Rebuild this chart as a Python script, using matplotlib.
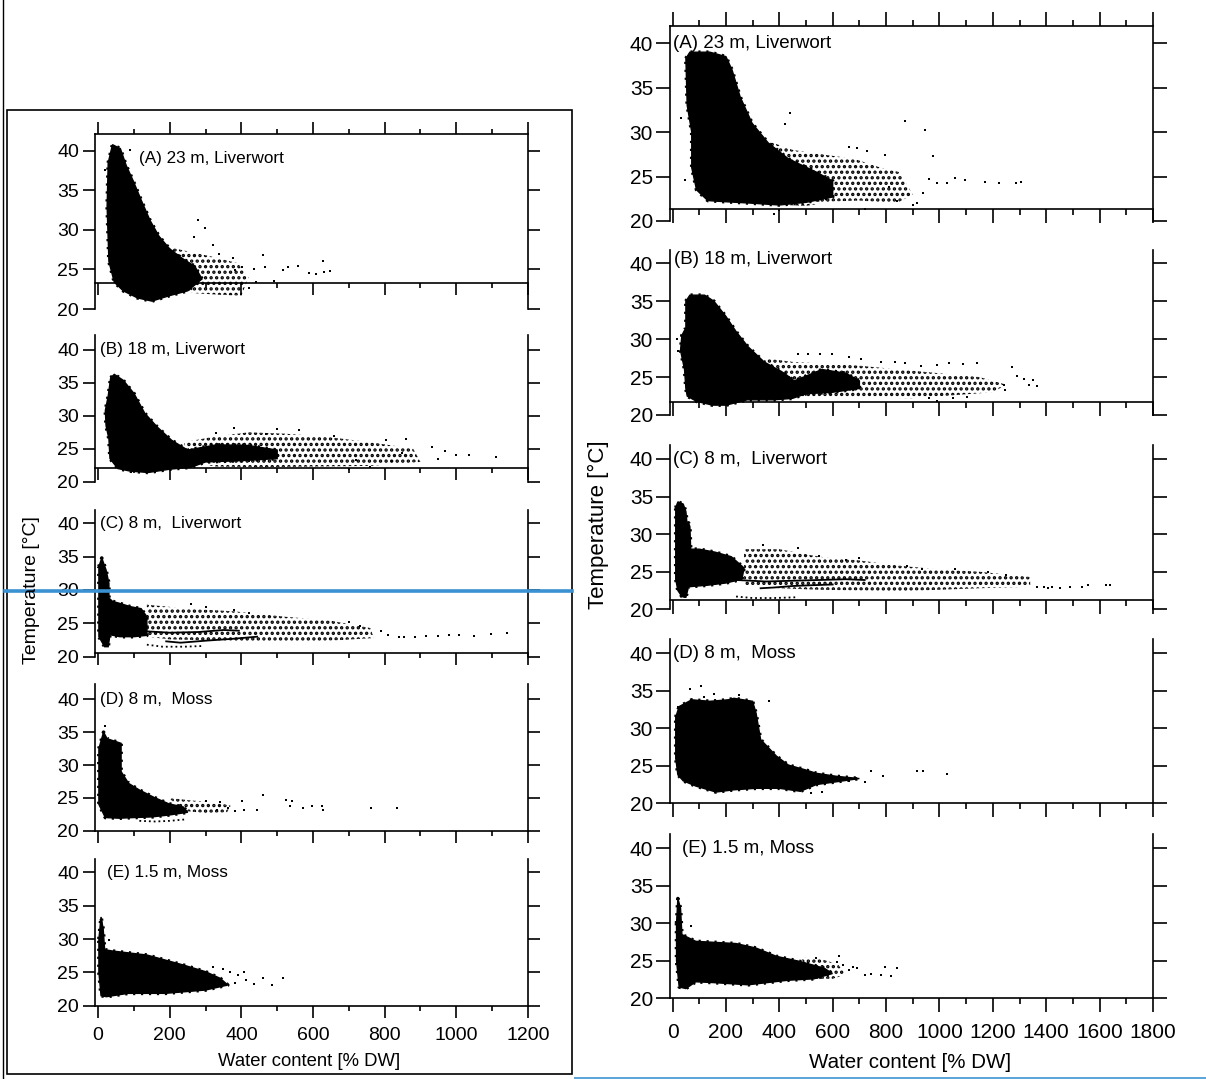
import matplotlib
matplotlib.use("Agg")
import matplotlib.pyplot as plt
from matplotlib.ticker import MultipleLocator
from matplotlib.lines import Line2D
from matplotlib.patches import Rectangle

plt.rcParams['font.family'] = ['Liberation Sans', 'DejaVu Sans']
plt.rcParams['hatch.linewidth'] = 1.6

W, H = 1206, 1079

# ---------------- data (water content [% DW], temperature [°C]) ----------------
# left figure
la_core_w = [28, 40, 62, 78, 98, 120, 145, 170, 200, 235, 270, 290, 250, 200, 150, 110, 70, 45, 30, 25]
la_core_t = [38.5, 40.8, 40.3, 38.2, 36.2, 33.8, 31.2, 29.2, 27.6, 26.4, 25.4, 23.8, 22.3, 21.7, 21.0, 21.4, 22.3, 23.4, 26.0, 33.0]
la_halo_w = [190, 250, 320, 390, 420, 400, 340, 270, 200]
la_halo_t = [27.9, 27.3, 26.6, 25.8, 24.0, 21.7, 21.8, 22.0, 22.5]
la_pts_w = [18, 88, 280, 297, 269, 321, 338, 377, 460, 465, 516, 531, 557, 588, 627, 631, 648, 609, 490, 434, 403, 383, 440, 420]
la_pts_t = [37.6, 40.1, 31.3, 30.3, 29.1, 28.1, 27.0, 26.4, 26.8, 25.3, 24.9, 25.3, 25.4, 24.5, 26.1, 24.7, 24.8, 24.4, 23.6, 25.1, 25.3, 24.9, 23.4, 22.6]

lb_core_w = [35, 45, 70, 100, 130, 165, 205, 250, 330, 420, 500, 500, 400, 300, 260, 200, 140, 90, 55, 33, 30, 22, 20, 28]
lb_core_t = [35.8, 36.3, 35.4, 33.4, 30.4, 28.3, 26.3, 24.8, 25.6, 25.5, 24.8, 23.5, 23.2, 23.0, 22.2, 21.9, 21.4, 21.6, 22.0, 23.5, 26.5, 28.5, 30.8, 33.0]
lb_halo_w = [240, 320, 420, 520, 640, 760, 880, 900, 760, 600, 450, 330, 250]
lb_halo_t = [26.0, 26.8, 27.5, 27.3, 26.8, 26.0, 25.0, 23.0, 22.4, 22.3, 22.2, 22.3, 23.0]
lb_pts_w = [860, 804, 932, 948, 968, 999, 1035, 1112, 820, 850, 700, 660, 560, 500, 470, 380, 330, 760, 720]
lb_pts_t = [26.5, 26.3, 25.2, 23.5, 24.7, 24.0, 24.0, 23.7, 23.2, 24.3, 22.0, 26.9, 27.8, 28.0, 27.3, 28.1, 27.4, 22.2, 23.3]

lc_core_w = [2, 10, 22, 30, 30, 40, 60, 90, 120, 136, 136, 100, 60, 33, 28, 18, 2]
lc_core_t = [33.5, 34.8, 33.0, 31.0, 28.8, 28.3, 28.0, 27.5, 27.2, 26.0, 23.2, 23.0, 23.0, 23.3, 21.5, 21.5, 23.0]
lc_halo_w = [136, 250, 380, 520, 650, 760, 770, 650, 500, 350, 200, 136]
lc_halo_t = [27.8, 27.2, 26.8, 26.0, 25.4, 24.3, 22.8, 22.4, 22.2, 22.4, 22.6, 23.0]
lc_pts_w = [839, 855, 886, 917, 948, 979, 1009, 1051, 1097, 1143, 790, 810, 730, 700, 420, 380, 300, 260]
lc_pts_t = [23.0, 23.0, 23.0, 23.1, 23.1, 23.2, 23.2, 23.1, 23.4, 23.5, 23.8, 23.2, 24.6, 25.2, 26.5, 27.0, 27.4, 27.9]
lc_trail1_w = [136, 200, 280, 350, 393]
lc_trail1_t = [23.8, 23.6, 23.7, 24.0, 23.9]
lc_trail2_w = [190, 230, 300, 380, 444]
lc_trail2_t = [22.3, 22.1, 22.4, 22.7, 23.0]
lc_trail3_w = [136, 180, 240, 290]
lc_trail3_t = [21.8, 21.5, 21.5, 21.6]

ld_core_w = [2, 15, 25, 64, 64, 85, 115, 155, 197, 238, 250, 200, 150, 100, 60, 20, 2]
ld_core_t = [32.5, 35.0, 34.0, 33.3, 29.0, 27.2, 26.2, 25.1, 24.1, 23.6, 22.8, 22.4, 22.1, 22.0, 21.9, 22.0, 24.0]
ld_halo_w = [197, 260, 330, 370, 360, 300, 240]
ld_halo_t = [25.0, 24.6, 24.3, 23.8, 22.8, 22.7, 23.0]
ld_pts_w = [300, 341, 362, 403, 408, 460, 444, 526, 537, 542, 573, 598, 624, 629, 763, 835, 382, 331, 20]
ld_pts_t = [24.5, 24.3, 23.5, 24.5, 23.2, 25.4, 23.1, 24.7, 23.8, 24.5, 23.5, 23.7, 23.7, 23.2, 23.4, 23.5, 23.0, 23.2, 35.9]
ld_trail_w = [115, 160, 200, 240]
ld_trail_t = [21.5, 21.4, 21.5, 21.7]

le_core_w = [2, 8, 14, 18, 40, 136, 238, 300, 341, 362, 300, 187, 84, 23, 8, 2]
le_core_t = [30.0, 33.3, 31.5, 28.4, 28.2, 27.6, 26.1, 25.1, 24.1, 23.1, 22.35, 21.85, 21.85, 21.35, 21.5, 25.0]
le_pts_w = [321, 367, 408, 413, 460, 485, 516, 382, 434, 29, 390, 350]
le_pts_t = [25.8, 25.1, 25.1, 23.9, 24.1, 23.1, 24.1, 23.4, 23.3, 29.9, 24.6, 25.5]

# right figure
ra_core_w = [50, 65, 140, 200, 223, 253, 298, 358, 434, 539, 600, 600, 500, 400, 300, 180, 132, 90, 72, 72, 55]
ra_core_t = [38.3, 39.0, 39.0, 38.5, 37.0, 34.0, 31.0, 28.8, 27.0, 25.5, 24.5, 22.7, 22.1, 21.8, 22.0, 22.2, 22.3, 23.5, 26.0, 30.0, 33.0]
ra_halo_w = [358, 450, 560, 680, 780, 850, 900, 840, 700, 600, 500, 420]
ra_halo_t = [29.0, 28.0, 27.5, 27.0, 26.0, 25.5, 23.0, 22.0, 22.3, 22.2, 21.7, 21.8]
ra_pts_w = [441, 870, 946, 976, 795, 690, 660, 727, 961, 991, 1029, 1059, 1096, 1172, 1224, 1285, 1307, 938, 916, 901, 840, 810, 400, 380, 720, 45, 30, 420]
ra_pts_t = [32.2, 31.3, 30.2, 27.3, 27.4, 28.2, 28.3, 27.9, 24.7, 24.3, 24.3, 24.8, 24.6, 24.4, 24.3, 24.3, 24.4, 23.1, 22.0, 21.8, 22.3, 23.8, 21.2, 20.8, 21.3, 24.6, 31.6, 30.9]

rb_core_w = [50, 65, 120, 155, 200, 238, 283, 343, 419, 456, 560, 650, 700, 700, 600, 500, 450, 380, 280, 200, 150, 90, 55, 50, 45, 30, 35, 50]
rb_core_t = [35.0, 35.8, 35.8, 35.0, 33.0, 31.0, 29.0, 27.0, 25.5, 24.5, 26.0, 25.5, 24.5, 23.5, 23.0, 22.8, 22.2, 22.0, 22.0, 21.3, 21.3, 21.8, 22.5, 23.5, 26.0, 28.5, 30.5, 31.5]
rb_halo_w = [343, 450, 560, 700, 850, 1000, 1150, 1250, 1200, 1050, 900, 750, 600, 456]
rb_halo_t = [27.5, 27.0, 26.8, 26.5, 26.0, 25.5, 25.0, 24.0, 23.0, 22.6, 22.2, 22.3, 22.3, 22.4]
rb_pts_w = [1270, 1292, 1315, 1352, 1367, 1337, 1240, 1247, 1142, 1089, 1036, 991, 931, 870, 833, 599, 554, 471, 509, 660, 705, 780, 961, 991, 1051, 1104, 15, 20]
rb_pts_t = [26.3, 25.2, 24.8, 24.6, 23.8, 23.9, 23.9, 23.3, 26.8, 26.7, 26.8, 26.6, 26.5, 26.8, 27.0, 28.1, 28.0, 28.0, 28.1, 27.7, 27.4, 27.0, 22.2, 21.9, 22.2, 22.4, 30.0, 28.5]

rc_core_w = [12, 20, 40, 50, 54, 60, 65, 68, 100, 160, 220, 268, 260, 200, 130, 60, 50, 45, 35, 20, 12]
rc_core_t = [33.5, 34.3, 34.0, 33.0, 31.5, 31.5, 31.0, 28.0, 28.0, 27.6, 27.0, 25.5, 24.0, 23.5, 23.2, 23.0, 21.6, 21.6, 21.7, 22.5, 24.0]
rc_halo_w = [268, 400, 550, 700, 850, 1000, 1150, 1340, 1340, 1150, 1000, 850, 700, 550, 400, 268]
rc_halo_t = [28.0, 28.0, 27.0, 26.5, 25.8, 25.3, 25.0, 24.3, 23.0, 22.8, 22.6, 22.4, 22.5, 22.6, 22.8, 23.2]
rc_pts_w = [1367, 1405, 1450, 1488, 1533, 1556, 1623, 1638, 1390, 1420, 340, 470, 550, 650, 700, 880, 935, 1060, 1180, 1250]
rc_pts_t = [23.0, 22.9, 22.8, 23.0, 23.0, 23.2, 23.2, 23.2, 23.0, 23.0, 28.6, 28.2, 27.1, 26.5, 26.8, 25.8, 25.3, 25.3, 24.9, 24.5]
rc_trail1_w = [238, 350, 450, 550, 650, 720]
rc_trail1_t = [23.9, 23.7, 23.8, 23.9, 24.0, 23.9]
rc_trail2_w = [330, 380, 450, 520, 600]
rc_trail2_t = [22.8, 22.9, 23.1, 23.2, 23.3]
rc_trail3_w = [238, 300, 380, 464]
rc_trail3_t = [21.7, 21.5, 21.5, 21.6]

rd_core_w = [12, 25, 72, 140, 208, 230, 300, 313, 330, 389, 434, 494, 539, 614, 700, 620, 539, 479, 400, 313, 230, 163, 87, 40, 20, 12]
rd_core_t = [31.5, 32.9, 33.8, 33.6, 33.8, 34.0, 33.6, 32.0, 28.5, 26.3, 25.1, 24.5, 24.0, 23.6, 23.3, 22.9, 22.5, 21.6, 22.0, 22.0, 21.8, 21.5, 22.3, 23.0, 23.8, 26.0]
rd_pts_w = [65, 105, 117, 155, 788, 742, 916, 938, 1029, 720, 660, 620, 560, 520, 20, 250, 360]
rd_pts_t = [35.3, 35.7, 34.2, 34.6, 23.6, 24.3, 24.3, 24.3, 23.9, 22.9, 23.0, 23.1, 21.5, 21.4, 32.8, 34.5, 33.7]

re_core_w = [15, 20, 30, 35, 87, 238, 313, 389, 479, 569, 599, 530, 430, 283, 150, 87, 50, 25, 15]
re_core_t = [30.0, 33.3, 32.0, 28.5, 27.6, 27.3, 26.7, 25.6, 24.9, 24.0, 23.3, 22.6, 22.4, 21.8, 22.1, 22.2, 21.3, 21.5, 25.0]
re_halo_w = [480, 560, 620, 650, 600, 520]
re_halo_t = [25.5, 25.2, 24.5, 23.2, 22.6, 22.6]
re_pts_w = [622, 675, 690, 720, 742, 795, 840, 817, 780, 536, 69, 617, 640, 660]
re_pts_t = [25.6, 24.2, 24.0, 23.1, 23.3, 24.2, 24.1, 23.0, 23.1, 25.4, 29.6, 24.9, 24.5, 23.8]

panel_labels = ['(A) 23 m, Liverwort', '(B) 18 m, Liverwort', '(C) 8 m,  Liverwort',
                '(D) 8 m,  Moss', '(E) 1.5 m, Moss']
xticks_left = [0, 200, 400, 600, 800, 1000, 1200]
xticks_right = [0, 200, 400, 600, 800, 1000, 1200, 1400, 1600, 1800]
yticks = [20, 25, 30, 35, 40]

# per-panel drawing content
left_sets = [
    dict(core=(la_core_w, la_core_t), halo=(la_halo_w, la_halo_t), pts=(la_pts_w, la_pts_t), trails=[]),
    dict(core=(lb_core_w, lb_core_t), halo=(lb_halo_w, lb_halo_t), pts=(lb_pts_w, lb_pts_t), trails=[]),
    dict(core=(lc_core_w, lc_core_t), halo=(lc_halo_w, lc_halo_t), pts=(lc_pts_w, lc_pts_t),
         trails=[(lc_trail1_w, lc_trail1_t, '-'), (lc_trail2_w, lc_trail2_t, '-'), (lc_trail3_w, lc_trail3_t, ':')]),
    dict(core=(ld_core_w, ld_core_t), halo=(ld_halo_w, ld_halo_t), pts=(ld_pts_w, ld_pts_t),
         trails=[(ld_trail_w, ld_trail_t, ':')]),
    dict(core=(le_core_w, le_core_t), halo=None, pts=(le_pts_w, le_pts_t), trails=[]),
]
right_sets = [
    dict(core=(ra_core_w, ra_core_t), halo=(ra_halo_w, ra_halo_t), pts=(ra_pts_w, ra_pts_t), trails=[]),
    dict(core=(rb_core_w, rb_core_t), halo=(rb_halo_w, rb_halo_t), pts=(rb_pts_w, rb_pts_t), trails=[]),
    dict(core=(rc_core_w, rc_core_t), halo=(rc_halo_w, rc_halo_t), pts=(rc_pts_w, rc_pts_t),
         trails=[(rc_trail1_w, rc_trail1_t, '-'), (rc_trail2_w, rc_trail2_t, '-'), (rc_trail3_w, rc_trail3_t, ':')]),
    dict(core=(rd_core_w, rd_core_t), halo=None, pts=(rd_pts_w, rd_pts_t), trails=[]),
    dict(core=(re_core_w, re_core_t), halo=(re_halo_w, re_halo_t), pts=(re_pts_w, re_pts_t), trails=[]),
]

# ---------------- layout (pixels) ----------------
# (top px, bottom px at 20 degC, px of 40 degC, T of the x-axis line)
left_rows = [(134, 309, 151, 23.3), (335, 481.7, 350, 22.1), (510, 656.7, 523.3, 20.5),
             (684.3, 830.7, 699.3, 20.0), (859, 1005.7, 872.3, 20.0)]
right_rows = [(26, 221, 43.3, 21.3), (250, 415, 263.3, 21.7), (445, 609.3, 459, 21.3),
              (639.3, 803.3, 653.3, 20.0), (834.3, 998.3, 848.3, 20.0)]
left_lab = [(113, 39.1, 12.3), (4, 40.1, 12.3), (4, 40.0, 12.3), (4, 40.0, 12.3), (25, 40.0, 12.3)]
right_lab = [(2, 40.0, 13.5), (5, 40.5, 13.5), (2, 39.9, 13.5), (2, 40.0, 13.5), (35, 40.0, 13.5)]

fig = plt.figure(figsize=(W / 100, H / 100), dpi=100)


def add_ax(x0, x1, ytop, ybot):
    return fig.add_axes([x0 / W, 1 - ybot / H, (x1 - x0) / W, (ybot - ytop) / H])


def make_panel(x0, x1, xlim, xticks, rows, sets, labs, tick_fs, tick_len, label_pad):
    for i, ((ytop, ybot, y40, line_t), d, lab) in enumerate(zip(rows, sets, labs)):
        ax = add_ax(x0, x1, ytop, ybot)
        ymax = 20 + (ybot - ytop) / ((ybot - y40) / 20)
        ax.set_xlim(*xlim)
        ax.set_ylim(20, ymax)

        if d['halo'] is not None:
            ax.fill(d['halo'][0], d['halo'][1], facecolor='none', edgecolor='black',
                    linewidth=0, hatch='...', zorder=1)
        cw, ct = d['core']
        ax.fill(cw, ct, color='black', linewidth=1.0, zorder=2)
        # speckled rim of the dense cloud
        ax.plot(list(cw) + [cw[0]], list(ct) + [ct[0]], color='black', lw=2.6,
                ls=(0, (0.6, 1.6)), dash_capstyle='butt', zorder=2)
        for tw, tt, ls in d['trails']:
            ax.plot(tw, tt, color='black', lw=1.3, ls=ls, zorder=2)
        ax.scatter(d['pts'][0], d['pts'][1], s=3.5, marker='s', color='black', linewidths=0, zorder=3)

        ax.text(lab[0], lab[1], panel_labels[i], fontsize=lab[2], ha='left', va='center')

        for s in ax.spines.values():
            s.set_linewidth(1.2)
        ax.spines['bottom'].set_position(('data', line_t))
        ax.spines['top'].set_visible(i == 0)

        ax.set_xticks(xticks)
        ax.xaxis.set_minor_locator(MultipleLocator(100))
        ax.set_yticks(yticks)
        ax.tick_params(axis='both', which='major', direction='out', length=tick_len, width=1.2,
                       labelsize=tick_fs, colors='black')
        ax.tick_params(axis='x', which='minor', direction='out', length=tick_len * 0.45, width=1.2)
        ax.tick_params(axis='y', left=True, right=True, labelright=False, pad=2.5)
        ax.tick_params(axis='x', which='both', bottom=True, top=(i == 0), labeltop=False,
                       labelbottom=(i == 4), pad=label_pad)
        ax.patch.set_alpha(0)


make_panel(94.6, 527.8, (-10, 1200), xticks_left, left_rows, left_sets, left_lab, 14, 8.6, 6.5)
make_panel(670.4, 1153, (-8, 1800), xticks_right, right_rows, right_sets, right_lab, 15, 10, 8)

# axis titles
fig.text(32 / W, 1 - 590 / H, 'Temperature [°C]', rotation=90, ha='center', va='center', fontsize=14)
fig.text(598 / W, 1 - 525 / H, 'Temperature [°C]', rotation=90, ha='center', va='center', fontsize=16)
fig.text(309 / W, 1 - 1061 / H, 'Water content [% DW]', ha='center', va='center', fontsize=13.3)
fig.text(910 / W, 1 - 1062 / H, 'Water content [% DW]', ha='center', va='center', fontsize=14.8)

# frame lines around the left figure and marker lines
fig.add_artist(Rectangle((7 / W, 1 - 1074 / H), 565 / W, 964 / H, transform=fig.transFigure,
                         fill=False, edgecolor='black', linewidth=1.2))
fig.add_artist(Line2D([3 / W, 3 / W], [0, 1], transform=fig.transFigure, color='black', lw=1.0))
fig.add_artist(Line2D([5 / W, 572 / W], [1 - 591 / H, 1 - 591 / H], transform=fig.transFigure,
                      color='#3a91d2', lw=2.6))
fig.add_artist(Line2D([575 / W, 1], [1 - 1077.5 / H, 1 - 1077.5 / H], transform=fig.transFigure,
                      color='#5aa3da', lw=1.4))

fig.savefig('out.png', dpi=100)
plt.close(fig)
